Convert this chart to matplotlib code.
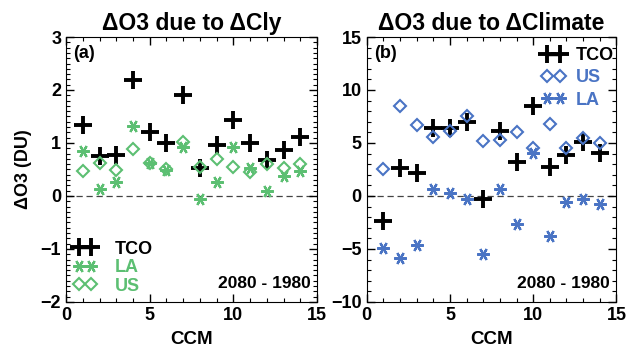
import numpy as np
import matplotlib.pyplot as plt
from matplotlib.ticker import MultipleLocator
from matplotlib.lines import Line2D

plt.rcParams['font.family'] = ['Liberation Sans', 'DejaVu Sans']
plt.rcParams['font.weight'] = 'bold'

ccm = list(range(1, 15))

# panel (a): dO3 due to dCly
cly_tco = [1.34, 0.75, 0.77, 2.19, 1.21, 0.99, 1.9, 0.52, 0.96, 1.43, 0.99, 0.68, 0.87, 1.12]
cly_la = [0.85, 0.13, 0.26, 1.32, 0.62, 0.49, 0.93, -0.06, 0.27, 0.93, 0.52, 0.09, 0.38, 0.48]
cly_us = [0.47, 0.62, 0.49, 0.89, 0.62, 0.5, 1.02, 0.55, 0.69, 0.55, 0.46, 0.6, 0.52, 0.6]

# panel (b): dO3 due to dClimate
clim_tco = [-2.33, 2.61, 2.14, 6.39, 6.4, 7.01, -0.31, 6.13, 3.24, 8.49, 2.77, 3.87, 5.12, 4.03]
clim_us = [2.55, 8.49, 6.7, 5.6, 6.13, 7.55, 5.19, 5.3, 6.0, 4.5, 6.76, 4.5, 5.44, 4.97]
clim_la = [-4.94, -5.88, -4.62, 0.66, 0.25, -0.31, -5.5, 0.63, -2.64, 4.03, -3.77, -0.53, -0.31, -0.75]

green = '#5cbf72'
blue = '#4a74c4'
star = (6, 2, 90)

tco_kw = dict(marker='+', ms=13, mew=2.8, color='black')
star_kw = dict(marker=star, ms=9, mew=1.6)
dia_kw = dict(marker='D', ms=5.8, mew=1.5, mfc='none')

fig = plt.figure(figsize=(6.29, 3.56), dpi=100)
ax1 = fig.add_axes([0.105, 0.152, 0.399, 0.744])
ax2 = fig.add_axes([0.583, 0.152, 0.397, 0.744])


def style_axes(ax, ylim, ymaj, ymin):
    ax.set_xlim(0, 15)
    ax.set_ylim(*ylim)
    ax.xaxis.set_major_locator(MultipleLocator(5))
    ax.xaxis.set_minor_locator(MultipleLocator(1))
    ax.yaxis.set_major_locator(MultipleLocator(ymaj))
    ax.yaxis.set_minor_locator(MultipleLocator(ymin))
    ax.tick_params(which='both', direction='in', top=True, right=True, labelsize=13)
    ax.tick_params(which='major', length=6, width=1)
    ax.tick_params(which='minor', length=3, width=0.8)
    ax.axhline(0, color='#444444', linestyle=(0, (5, 3)), linewidth=0.9, zorder=0)
    ax.set_xlabel('CCM', fontsize=13.5, fontweight='bold', labelpad=5)
    ax.text(0.975, 0.04, '2080 - 1980', transform=ax.transAxes, ha='right', va='bottom',
            fontsize=12.5, fontweight='bold')


style_axes(ax1, (-2, 3), 1, 0.1)
style_axes(ax2, (-10, 15), 5, 1)

ax1.plot(ccm, cly_tco, ls='none', **tco_kw)
ax1.plot(ccm, cly_la, ls='none', color=green, **star_kw)
ax1.plot(ccm, cly_us, ls='none', color=green, **dia_kw)
ax1.set_title('ΔO3 due to ΔCly', fontsize=16.5, fontweight='bold', pad=5)
ax1.set_ylabel('ΔO3 (DU)', fontsize=13, fontweight='bold', labelpad=6)
ax1.text(0.03, 0.97, '(a)', transform=ax1.transAxes, ha='left', va='top', fontsize=13, fontweight='bold')

h1 = [Line2D([], [], ls='-', lw=2.5, **tco_kw),
      Line2D([], [], ls='none', color=green, **star_kw),
      Line2D([], [], ls='none', color=green, **dia_kw)]
ax1.legend(h1, ['TCO', 'LA', 'US'], loc='lower left', numpoints=2, frameon=False, fontsize=13,
           handlelength=1.3, handletextpad=1.0, labelspacing=0.08, borderaxespad=0.0,
           labelcolor=['black', green, green], bbox_to_anchor=(0.0, 0.0))

ax2.plot(ccm, clim_tco, ls='none', **tco_kw)
ax2.plot(ccm, clim_us, ls='none', color=blue, **dia_kw)
ax2.plot(ccm, clim_la, ls='none', color=blue, **star_kw)
ax2.set_title('ΔO3 due to ΔClimate', fontsize=16.5, fontweight='bold', pad=5)
ax2.text(0.03, 0.97, '(b)', transform=ax2.transAxes, ha='left', va='top', fontsize=13, fontweight='bold')

h2 = [Line2D([], [], ls='-', lw=2.5, **tco_kw),
      Line2D([], [], ls='none', color=blue, **dia_kw),
      Line2D([], [], ls='none', color=blue, **star_kw)]
ax2.legend(h2, ['TCO', 'US', 'LA'], loc='upper right', numpoints=2, frameon=False, fontsize=13,
           handlelength=1.3, handletextpad=0.6, labelspacing=0.3, borderaxespad=0.0,
           labelcolor=['black', blue, blue], bbox_to_anchor=(1.02, 0.99))

fig.savefig('out.png', dpi=100)
